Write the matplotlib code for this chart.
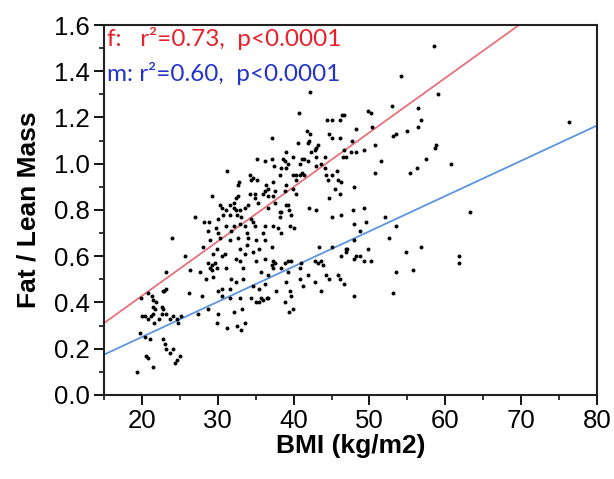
import numpy as np
import matplotlib
matplotlib.use("Agg")
import matplotlib.pyplot as plt
from matplotlib.ticker import MultipleLocator

# BMI (kg/m2) y Fat/Lean Mass
bmi = [
    # BMI < 26
    19.3, 19.7, 19.9, 20.0, 20.4, 20.4, 20.6, 20.8, 20.8, 20.8, 21.1, 21.2, 21.3, 21.4, 21.5,
    21.5, 21.5, 21.6, 21.7, 21.8, 22.2, 22.6, 22.6, 22.8, 22.8, 22.8, 22.9, 23.0, 23.2, 23.2,
    23.2, 23.2, 23.7, 23.7, 23.9, 24.1, 24.1, 24.3, 24.6, 24.6, 24.7, 25.0, 25.2, 25.7,
    # 26-34, parte baja
    26.2, 27.4, 27.9, 28.5, 28.7, 29.4, 30.0, 30.0, 29.9, 30.5, 30.5, 31.2, 31.6, 31.6, 31.8,
    32.1, 32.4, 32.6, 32.9, 33.0, 33.2, 33.3, 33.6, 26.4, 27.7,
    # 26-34, parte media
    27.0, 28.2, 28.9, 30.0, 28.7, 29.7, 30.0, 31.1, 31.8, 32.2, 32.9, 33.6, 33.8, 29.0, 30.3,
    31.6, 32.7, 34.0, 28.0, 29.9, 29.4, 30.5, 30.9, 32.9, 33.8, 33.6, 28.7, 29.2, 29.6, 29.9,
    29.0, 29.2, 31.1, 32.4, 32.9, 33.3, 30.7, 31.6, 32.5, 33.1,
    # 26-34, parte alta
    30.3, 30.6, 31.1, 31.6, 32.2, 32.4, 32.9, 33.6, 34.0, 29.3, 32.4, 32.7, 32.8, 31.2, 32.2,
    32.7,
    # 34-42, parte alta
    34.2, 34.6, 35.2, 34.4, 34.2, 34.9, 34.9, 36.0, 36.6, 37.3, 36.4, 36.2, 37.3, 36.6, 37.5,
    38.8, 38.2, 39.0, 39.9, 40.3, 39.9, 40.3, 40.8, 41.1, 40.3, 41.4, 38.4, 39.0, 37.4, 35.2,
    36.2, 37.1, 38.6, 38.8, 39.2, 41.1, 41.4, 41.9, 40.8, 39.0, 39.9, 40.6, 41.9, 37.1, 41.7,
    42.1, 42.0, 40.7, 42.2, 35.3, 36.6, 37.5, 38.4, 39.3, 39.0, 39.4, 39.6, 38.2, 38.2, 34.4,
    34.6, 34.9,
    # 34-42, parte media
    37.3, 37.9, 38.4, 36.2, 36.0, 39.5, 40.1, 35.1, 36.2, 37.1, 35.5, 34.6, 35.1, 36.2, 37.3,
    37.1, 37.5, 37.3, 38.8, 39.2, 39.7, 38.4, 39.2, 41.0, 40.8, 35.7, 36.6, 41.9, 40.8,
    # 34-42, parte baja
    36.2, 35.5, 34.6, 37.7, 39.0, 39.5, 41.2, 39.7, 35.7, 36.6, 34.4, 35.0, 35.5, 36.0, 36.5,
    38.8, 39.4, 39.9,
    # 42-50
    44.4, 45.1, 46.1, 46.4, 49.8, 44.7, 45.1, 46.1, 48.2, 43.2, 43.0, 42.8, 42.3, 46.7, 47.6,
    48.2, 49.3, 44.1, 43.0, 46.5, 46.9, 42.9, 44.1, 45.7, 44.3, 44.5, 45.8, 44.6, 45.4, 46.1,
    48.0, 43.6, 45.0, 46.3, 46.7, 47.7, 42.0, 43.0, 45.0, 46.3, 47.8, 49.3, 48.0, 49.6, 48.7,
    47.9, 43.4, 45.0, 46.9, 47.1, 42.8, 43.2, 43.6, 43.9, 46.3, 46.9, 48.2, 49.3, 49.8, 48.0,
    48.8, 44.3, 44.7, 45.8, 46.1, 42.8, 43.6, 48.0, 46.7,
    # BMI > 50
    58.5, 54.1, 59.1, 53.0, 50.2, 56.4, 56.8, 56.4, 50.4, 55.0, 53.1, 53.5, 50.7, 58.6, 58.8,
    51.5, 57.5, 60.7, 50.7, 55.3, 56.3, 76.3, 63.2, 52.0, 53.5, 52.6, 50.2, 54.8, 56.8, 53.5,
    55.7, 61.8, 61.8, 53.1,
]
ratio = [
    # BMI < 26
    0.10, 0.27, 0.42, 0.34, 0.34, 0.25, 0.17, 0.44, 0.33, 0.16, 0.24, 0.34, 0.43, 0.41, 0.35,
    0.12, 0.38, 0.31, 0.37, 0.40, 0.33, 0.35, 0.38, 0.37, 0.45, 0.24, 0.45, 0.22, 0.35, 0.46,
    0.20, 0.53, 0.33, 0.18, 0.68, 0.34, 0.20, 0.14, 0.15, 0.33, 0.31, 0.17, 0.34, 0.60,
    # 26-34, parte baja
    0.44, 0.35, 0.43, 0.50, 0.37, 0.51, 0.45, 0.35, 0.31, 0.46, 0.43, 0.29, 0.46, 0.42, 0.50,
    0.36, 0.49, 0.30, 0.42, 0.28, 0.37, 0.50, 0.31, 0.54, 0.53,
    # 26-34, parte media
    0.77, 0.75, 0.75, 0.76, 0.71, 0.72, 0.70, 0.73, 0.71, 0.73, 0.74, 0.73, 0.70, 0.67, 0.68,
    0.67, 0.68, 0.68, 0.64, 0.63, 0.61, 0.60, 0.61, 0.63, 0.65, 0.61, 0.57, 0.56, 0.57, 0.55,
    0.55, 0.54, 0.55, 0.59, 0.58, 0.55, 0.78, 0.78, 0.78, 0.77,
    # 26-34, parte alta
    0.82, 0.81, 0.80, 0.82, 0.81, 0.80, 0.80, 0.81, 0.82, 0.86, 0.85, 0.91, 0.92, 0.97, 0.83,
    0.86,
    # 34-42, parte alta
    0.95, 0.94, 0.93, 0.93, 0.87, 0.85, 0.87, 0.87, 0.86, 0.86, 0.91, 0.88, 0.92, 0.89, 0.88,
    0.88, 0.95, 0.91, 0.89, 0.87, 0.95, 0.95, 0.95, 0.96, 0.93, 0.95, 0.98, 0.98, 0.99, 1.02,
    1.01, 1.02, 1.02, 1.01, 1.00, 1.02, 1.02, 1.01, 1.00, 1.05, 1.03, 1.09, 1.09, 1.11, 1.14,
    1.13, 1.10, 1.22, 1.31, 0.83, 0.81, 0.83, 0.79, 0.82, 0.82, 0.80, 0.78, 0.79, 0.77, 0.76,
    0.75, 0.73,
    # 34-42, parte media
    0.73, 0.72, 0.70, 0.73, 0.70, 0.73, 0.72, 0.67, 0.67, 0.64, 0.63, 0.62, 0.58, 0.59, 0.58,
    0.56, 0.57, 0.55, 0.57, 0.58, 0.58, 0.55, 0.53, 0.57, 0.55, 0.53, 0.52, 0.52, 0.50,
    # 34-42, parte baja
    0.48, 0.46, 0.47, 0.45, 0.49, 0.45, 0.47, 0.43, 0.42, 0.42, 0.42, 0.40, 0.40, 0.41, 0.42,
    0.40, 0.36, 0.37,
    # 42-50
    1.19, 1.19, 1.19, 1.21, 1.23, 1.13, 1.11, 1.11, 1.15, 1.08, 1.07, 1.06, 1.05, 1.06, 1.05,
    1.05, 1.06, 1.03, 1.03, 1.03, 1.03, 0.99, 0.98, 0.97, 0.95, 0.93, 0.93, 0.85, 0.89, 0.87,
    0.90, 1.00, 0.95, 0.92, 1.21, 1.10, 0.81, 0.80, 0.77, 0.78, 0.80, 0.81, 0.74, 0.75, 0.71,
    0.67, 0.64, 0.64, 0.63, 0.63, 0.58, 0.57, 0.58, 0.56, 0.60, 0.62, 0.60, 0.58, 0.63, 0.59,
    0.60, 0.52, 0.50, 0.52, 0.50, 0.49, 0.45, 0.43, 0.48,
    # BMI > 50
    1.51, 1.38, 1.30, 1.25, 1.22, 1.24, 1.19, 1.16, 1.16, 1.14, 1.12, 1.13, 1.08, 1.07, 1.08,
    1.01, 1.02, 1.00, 0.96, 0.96, 0.98, 1.18, 0.79, 0.77, 0.73, 0.68, 0.58, 0.62, 0.64, 0.53,
    0.54, 0.60, 0.57, 0.44,
]

# rectas de regresion (pendiente, intercepto) por sexo
fit_f = (0.02356, -0.0426)
fit_m = (0.01524, -0.054)
label_f = "f:   r\u00b2=0.73,  p<0.0001"
label_m = "m: r\u00b2=0.60,  p<0.0001"

fig = plt.figure(figsize=(6.14, 4.79), dpi=100)
ax = fig.add_axes([0.1694, 0.1754, 0.8029, 0.7724])

ax.scatter(bmi, ratio, s=8, c="black", marker="o", linewidths=0, zorder=3)

xs = np.array([15, 80])
ax.plot(xs, fit_f[0] * xs + fit_f[1], color="#e8707c", lw=1.3, zorder=2)
ax.plot(xs, fit_m[0] * xs + fit_m[1], color="#5b95e0", lw=1.3, zorder=2)

ax.text(15.4, 1.54, label_f, color="#e8202a", fontsize=17.5, family="Lato",
        va="center", ha="left")
ax.text(15.4, 1.39, label_m, color="#2233cc", fontsize=17.5, family="Lato",
        va="center", ha="left")

ax.set_xlim(15, 80)
ax.set_ylim(0, 1.6)
ax.xaxis.set_minor_locator(MultipleLocator(5))
ax.yaxis.set_major_locator(MultipleLocator(0.2))
ax.yaxis.set_minor_locator(MultipleLocator(0.1))
ax.set_xticks(range(20, 81, 10))
ax.yaxis.set_major_formatter(matplotlib.ticker.FormatStrFormatter("%.1f"))

for s in ax.spines.values():
    s.set_linewidth(1.5)
    s.set_color("#222222")
ax.tick_params(which="major", direction="out", length=7, width=1.3,
               labelsize=18.5, pad=3)
ax.tick_params(which="minor", direction="out", length=3.5, width=1.1)
for lab in ax.get_xticklabels() + ax.get_yticklabels():
    lab.set_family("Liberation Sans")

ax.set_xlabel("BMI (kg/m2)", fontsize=19, fontweight="bold", family="Liberation Sans",
              labelpad=1)
ax.set_ylabel("Fat / Lean Mass", fontsize=19, fontweight="bold", family="Liberation Sans",
              labelpad=10)

fig.savefig("out.png", dpi=100)
